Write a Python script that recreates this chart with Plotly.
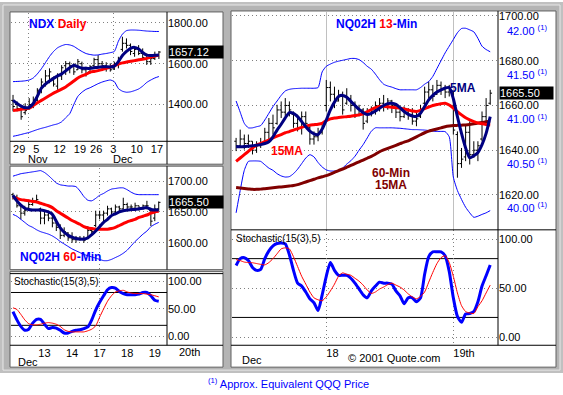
import plotly.graph_objects as go

W, H = 563, 395
FONT = "Arial, Liberation Sans, sans-serif"

# ---------------- DATA ----------------
# Daily NDX (Oct 29 .. Dec 19, 2001), trading-day index
daily_open = [1420, 1400, 1380, 1360, 1380, 1400, 1420, 1470, 1500, 1540, 1530, 1490, 1540, 1590, 1600, 1590, 1570, 1600, 1570, 1560,
              1590, 1620, 1600, 1590, 1580, 1575, 1600, 1670, 1700, 1690, 1650, 1670, 1650, 1640, 1610, 1625, 1640]
daily_high = [1447, 1415, 1398, 1406, 1431, 1439, 1480, 1528, 1569, 1577, 1537, 1553, 1593, 1613, 1610, 1602, 1623, 1610, 1585, 1593,
              1629, 1642, 1613, 1607, 1602, 1610, 1634, 1732, 1724, 1699, 1683, 1691, 1675, 1650, 1642, 1659, 1662]
daily_low = [1366, 1366, 1325, 1350, 1374, 1382, 1415, 1455, 1488, 1504, 1488, 1472, 1520, 1545, 1553, 1545, 1569, 1553, 1537, 1553,
             1577, 1577, 1564, 1561, 1561, 1569, 1577, 1659, 1675, 1642, 1634, 1642, 1618, 1594, 1594, 1618, 1623]
daily_close = [1390, 1380, 1340, 1370, 1400, 1420, 1470, 1510, 1540, 1560, 1500, 1540, 1580, 1600, 1590, 1560, 1610, 1570, 1550, 1585,
               1620, 1600, 1590, 1580, 1570, 1600, 1625, 1700, 1690, 1660, 1670, 1650, 1630, 1610, 1625, 1640, 1657.12]
daily_ma_fast = [1420, 1405, 1392, 1384, 1386, 1405, 1440, 1480, 1500, 1515, 1528, 1540, 1550, 1565, 1580, 1592, 1585, 1578, 1577, 1577,
                 1580, 1583, 1585, 1585, 1584, 1588, 1610, 1640, 1660, 1675, 1680, 1672, 1655, 1642, 1640, 1641, 1643]
daily_ma_slow = [1370, 1373, 1376, 1379, 1382, 1395, 1408, 1420, 1432, 1444, 1456, 1465, 1475, 1486, 1500, 1515, 1530, 1540, 1548, 1558,
                 1562, 1566, 1571, 1577, 1583, 1590, 1598, 1604, 1608, 1612, 1615, 1619, 1622, 1626, 1632, 1637, 1642]
daily_band_up = [1512, 1513, 1514, 1516, 1520, 1530, 1550, 1575, 1605, 1635, 1660, 1678, 1688, 1694, 1692, 1685, 1672, 1660, 1650, 1645,
                 1642, 1643, 1647, 1650, 1654, 1660, 1710, 1745, 1762, 1765, 1765, 1764, 1762, 1760, 1759, 1758, 1758]
daily_band_dn = [1244, 1248, 1253, 1258, 1263, 1270, 1277, 1283, 1288, 1294, 1300, 1305, 1315, 1335, 1355, 1400, 1440, 1460, 1474, 1482,
                 1492, 1502, 1510, 1516, 1520, 1512, 1478, 1465, 1460, 1462, 1468, 1476, 1490, 1508, 1520, 1530, 1537]
daily_tick_idx = [0, 5, 10, 15, 19, 24, 29, 34]
daily_tick_text = ["29", "5", "12", "19", "26", "3", "10", "17"]
daily_month_idx = [3, 24]
daily_month_text = ["Nov", "Dec"]
daily_price_ticks = [1400, 1600, 1800]

# 60-minute NQ02H
h60_open = [1678, 1674, 1660, 1648, 1656, 1662, 1668, 1655, 1640, 1645, 1640, 1632, 1625, 1612, 1616, 1608, 1605, 1606, 1607, 1608,
            1620, 1628, 1645, 1645, 1648, 1655, 1650, 1658, 1655, 1662, 1658, 1656, 1660, 1656, 1660, 1652, 1640, 1655]
h60_high = [1681, 1678, 1662, 1660, 1670, 1673, 1678, 1657, 1652, 1652, 1649, 1635, 1630, 1625, 1617, 1617, 1611, 1611, 1611, 1627,
            1625, 1652, 1652, 1652, 1660, 1657, 1662, 1660, 1673, 1665, 1662, 1665, 1660, 1662, 1668, 1657, 1662, 1667]
h60_low = [1670, 1657, 1638, 1644, 1654, 1660, 1665, 1630, 1630, 1635, 1625, 1619, 1606, 1609, 1603, 1600, 1600, 1603, 1600, 1606,
           1614, 1625, 1638, 1635, 1644, 1646, 1646, 1649, 1654, 1654, 1652, 1652, 1652, 1654, 1654, 1627, 1635, 1652]
h60_close = [1674, 1660, 1648, 1652, 1662, 1668, 1670, 1640, 1645, 1640, 1632, 1625, 1612, 1618, 1608, 1605, 1606, 1607, 1604, 1620,
             1618, 1645, 1645, 1648, 1655, 1650, 1658, 1655, 1662, 1658, 1658, 1660, 1656, 1660, 1660, 1635, 1655, 1665.5]
h60_ma_slow = [1674, 1672, 1670, 1669, 1668, 1667, 1666, 1664, 1662, 1660, 1657, 1652, 1648, 1644, 1640, 1636, 1633, 1630, 1626, 1624,
               1623, 1622, 1622, 1622, 1622, 1623, 1625, 1628, 1631, 1634, 1636, 1638, 1641, 1643, 1645, 1648, 1650, 1651]
h60_ma_fast = [1677, 1668, 1661, 1656, 1654, 1653, 1653, 1653, 1652, 1650, 1646, 1635, 1624, 1617, 1612, 1609, 1607, 1606, 1606, 1608,
               1613, 1619, 1626, 1633, 1638, 1644, 1647, 1650, 1652, 1653, 1654, 1654, 1655, 1656, 1657, 1654, 1653, 1653]
h60_band_up = [1708, 1710, 1712, 1713, 1714, 1715, 1716, 1717, 1714, 1709, 1703, 1697, 1694, 1693, 1692, 1692, 1691, 1684, 1675, 1669,
               1668, 1672, 1677, 1680, 1684, 1687, 1688, 1689, 1689, 1686, 1682, 1679, 1678, 1678, 1678, 1678, 1678, 1678]
h60_band_dn = [1646, 1643, 1638, 1633, 1628, 1625, 1621, 1618, 1616, 1614, 1611, 1607, 1602, 1598, 1594, 1590, 1587, 1584, 1581, 1579,
               1577, 1575, 1573, 1571, 1571, 1573, 1576, 1579, 1583, 1588, 1595, 1602, 1608, 1614, 1619, 1626, 1630, 1633]
h60_stoch_k = [45, 30, 18, 11, 13, 24, 31, 31, 22, 14, 16, 15, 11, 6, 6, 9, 11, 12, 14, 17,
               30, 48, 62, 74, 85, 89, 88, 82, 78, 76, 76, 76, 77, 80, 80, 74, 66, 64]
h60_stoch_d = [52, 49, 40, 30, 23, 21, 21, 22, 24, 25, 24, 22, 18, 12, 9, 8, 8, 8, 8, 10,
               13, 19, 35, 50, 64, 74, 81, 83, 84, 81, 79, 78, 78, 78, 77, 76, 74, 72]
h60_day_idx = [8, 15, 22, 29, 36]
h60_day_text = ["13", "14", "17", "18", "19"]
h60_week_idx = [22]
h60_price_ticks = [1600, 1650, 1700]
stoch_ticks = [0, 50, 100]
stoch_levels = [20, 80]

# 13-minute NQ02H
m13_open = [1644, 1642, 1645, 1643, 1644, 1640, 1642, 1643, 1648, 1652, 1652, 1658, 1657, 1660, 1656, 1652, 1650, 1655, 1650, 1645,
            1646, 1648, 1660, 1668, 1665, 1662, 1664, 1661, 1663, 1660, 1656, 1658, 1653, 1656, 1658, 1660, 1661, 1660, 1662, 1660,
            1657, 1655, 1657, 1656, 1653, 1655, 1661, 1666, 1667, 1665, 1669, 1667, 1666, 1665, 1647, 1634, 1637, 1648, 1638, 1640,
            1645, 1655, 1661]
m13_high = [1645.5, 1649.2, 1647, 1647, 1644, 1644, 1645.5, 1650, 1654.4, 1655.9, 1660.3, 1661.8, 1663.3, 1661.8, 1657.3, 1655.9, 1657.3,
            1657.3, 1651.4, 1648.4, 1650, 1651.4, 1671.4, 1670.7, 1668.4, 1667, 1666.2, 1667.7, 1664.7, 1661.8, 1660.3, 1658.8, 1658.8,
            1659.6, 1661.8, 1663.3, 1664.7, 1663.3, 1662.5, 1661, 1658.8, 1659.6, 1658.8, 1658.8, 1657.3, 1660.3, 1668.4, 1670.7,
            1669.2, 1671.4, 1670.7, 1669.2, 1669.2, 1666.2, 1648.4, 1641, 1651.4, 1652.9, 1644, 1644, 1657.3, 1663.3, 1667]
m13_low = [1639.6, 1641.8, 1640.3, 1641, 1638.1, 1638.8, 1641, 1642.5, 1644, 1647, 1651.4, 1654.4, 1655.1, 1655.1, 1650, 1648.4, 1647,
           1650, 1642.5, 1642.5, 1644, 1647, 1657.3, 1661.8, 1658.8, 1661.8, 1655.9, 1660.3, 1657.3, 1654.4, 1655.1, 1649.2, 1652.1,
           1655.1, 1655.9, 1657.3, 1657.3, 1658.1, 1656.6, 1654.4, 1652.9, 1654.4, 1653.6, 1651.4, 1650.7, 1654.4, 1660.3, 1663.3,
           1661.8, 1664.7, 1664.7, 1663.3, 1664, 1647, 1627.7, 1632.1, 1635.1, 1633.6, 1636.6, 1635.1, 1644, 1652.9, 1660.3]
m13_close = [1642, 1645, 1643, 1644, 1640, 1642, 1643, 1648, 1652, 1650, 1658, 1657, 1660, 1658, 1652, 1650, 1655, 1652, 1645, 1646,
             1648, 1650, 1668, 1665, 1662, 1664, 1658, 1663, 1660, 1656, 1658, 1652, 1656, 1658, 1660, 1661, 1660, 1662, 1660, 1657,
             1655, 1657, 1656, 1653, 1654, 1658, 1666, 1667, 1664, 1669, 1667, 1666, 1667, 1649, 1634, 1636, 1648, 1638, 1640, 1642,
             1655, 1660, 1665.5]
m13_ma5 = [1641.5, 1641.5, 1641.6, 1641.8, 1642, 1642.2, 1642.5, 1643, 1643.8, 1646, 1649, 1651.6, 1654.5, 1656.8, 1656.5, 1655,
           1652.8, 1650.5, 1648.5, 1647.3, 1647, 1649.5, 1653.5, 1658, 1661.5, 1664, 1664.5, 1663.7, 1661.8, 1660, 1658.2, 1656.8,
           1656, 1656.5, 1657.5, 1658.8, 1660, 1660.8, 1661, 1660.5, 1659, 1657.3, 1656, 1655.3, 1655.1, 1656.5, 1659.5, 1662.5,
           1664.5, 1666, 1667, 1667.8, 1668, 1663, 1655, 1647.5, 1641, 1636.6, 1637.5, 1639, 1642.5, 1647.5, 1655]
m13_ma15 = [1635, 1636.5, 1638, 1639.5, 1641, 1642.3, 1643, 1643.8, 1644.5, 1645.5, 1646.3, 1647, 1647.8, 1648.3, 1649, 1649.6,
            1650.2, 1650.7, 1651.2, 1651.4, 1651.6, 1652, 1653.2, 1654, 1654.4, 1654.6, 1654.8, 1655, 1655.2, 1655.5, 1655.8, 1656.3,
            1657.2, 1658.2, 1659, 1659.5, 1659.6, 1659.4, 1659.2, 1659, 1658.8, 1658.4, 1658, 1657.5, 1657.3, 1657.8, 1658.6, 1659.3,
            1660, 1660.4, 1660.8, 1661, 1660.2, 1658.8, 1657.2, 1655.8, 1654.5, 1653.6, 1652.8, 1652.2, 1651.8, 1651.5, 1651.3]
m13_ma60_15 = [1623.3, 1623.1, 1622.9, 1622.7, 1622.5, 1622.5, 1622.6, 1622.8, 1623, 1623.2, 1623.4, 1623.6, 1623.8, 1624, 1624.2,
               1624.6, 1625.2, 1625.8, 1626.4, 1627, 1627.6, 1628.1, 1628.6, 1629.3, 1630.1, 1630.9, 1631.6, 1632.4, 1633.2, 1634,
               1634.8, 1635.6, 1636.4, 1637.2, 1638.2, 1639.3, 1640.1, 1640.8, 1641.5, 1642.2, 1642.9, 1643.6, 1644.2, 1645.1, 1646,
               1646.9, 1647.8, 1648.5, 1649, 1649.5, 1650, 1650.5, 1650.8, 1651, 1651.1, 1651.2, 1651.3, 1651.5, 1651.8, 1652.1,
               1652.4, 1652.7, 1653]
m13_band_up = [1662, 1657, 1652, 1650, 1650, 1650.5, 1651, 1653.5, 1656.5, 1659.5, 1662, 1664.5, 1666.5, 1667.2, 1667.5, 1667.6,
               1667.7, 1667.7, 1667.7, 1667.7, 1668, 1675, 1677.5, 1678.5, 1679.3, 1679.8, 1680.2, 1680.6, 1681, 1681, 1680.5, 1679.2,
               1677.5, 1676.2, 1674, 1671.5, 1669.5, 1668.7, 1668.2, 1667.5, 1667, 1667, 1667, 1667, 1667, 1668, 1669.5, 1670.7, 1673,
               1676.5, 1680, 1683.5, 1686.5, 1689.5, 1692.5, 1694.4, 1694.5, 1693.8, 1692.9, 1690, 1686.5, 1685, 1684]
m13_band_dn = [1612, 1622, 1631, 1635, 1635.2, 1635.2, 1635, 1633.5, 1632, 1631, 1629.5, 1628.5, 1628, 1628.2, 1629.5, 1631.5, 1634,
               1636.5, 1638, 1637, 1634.5, 1632.5, 1631.2, 1630.7, 1630.7, 1630.8, 1632, 1633.8, 1635.3, 1637.3, 1640, 1642.5, 1645.5,
               1648.5, 1650, 1650, 1650, 1650, 1650, 1649.9, 1649.8, 1649.6, 1649.4, 1649.2, 1649.2, 1649.1, 1649, 1648.8, 1648.5,
               1648.4, 1648.4, 1648.3, 1646, 1628, 1622, 1618, 1614.5, 1612, 1610, 1610.5, 1611.3, 1612, 1613]
m13_stoch_k = [73, 80, 81, 78, 71, 68, 69, 80, 88, 93, 95.5, 96, 95, 84, 68, 55, 52, 46, 39, 35, 27, 43, 62, 76, 68, 63, 63, 63, 60,
               55, 49, 43, 40, 47, 52, 56, 55, 55, 54, 47, 42, 34, 40, 40, 36, 40, 64, 82, 87, 87, 87, 83, 67, 40, 21, 15, 23.5, 24,
               26, 36, 52, 62.5, 73.5]
m13_stoch_d = [79, 78, 76.5, 76, 75.8, 75, 74.2, 73.6, 76, 80, 85, 90, 91, 90, 82, 72, 62, 54, 46, 40, 38, 37, 41, 47, 54, 62, 65.5,
               64, 63, 60, 57, 53, 48, 44.5, 46, 49, 51, 53.5, 55, 53, 51, 48, 44, 41, 39, 41.5, 46, 56, 66, 75, 81, 83, 76, 62, 45,
               32, 26, 24.5, 24, 31, 37, 45, 53]
m13_day_idx = [22, 53]
m13_day_text = ["18", "19th"]
m13_price_ticks = [1620, 1640, 1660, 1680, 1700]
qqq_ticks = [40.0, 40.5, 41.0, 41.5, 42.0]
qqq_per_point = 39.55      # NQ points per 1.00 QQQ
qqq_anchor = (40.0, 1614.2)  # QQQ 40.00 ~ NQ 1614.2

# ---------------- helpers ----------------
def X(p):
    return p / W

def Y(p):
    return 1 - p / H

BLUE, RED, NAVY, DKRED = "#0000ff", "#ff0000", "#000080", "#800000"
GRID = dict(showgrid=True, gridcolor="#808080", griddash="1px,3px", gridwidth=1)

fig = go.Figure()

def ohlc(xa, ya, o, h, l, c):
    fig.add_trace(go.Ohlc(x=list(range(len(o))), open=o, high=h, low=l, close=c, xaxis=xa, yaxis=ya,
                          increasing=dict(line=dict(color="black", width=1)),
                          decreasing=dict(line=dict(color="black", width=1)),
                          tickwidth=0.45, showlegend=False, hoverinfo="skip"))

def line(xa, ya, vals, color, width):
    fig.add_trace(go.Scatter(x=list(range(len(vals))), y=vals, xaxis=xa, yaxis=ya, mode="lines",
                             line=dict(color=color, width=width, shape="spline", smoothing=0.6),
                             showlegend=False, hoverinfo="skip"))

# Daily panel
ohlc("x", "y", daily_open, daily_high, daily_low, daily_close)
line("x", "y", daily_band_up, BLUE, 1)
line("x", "y", daily_band_dn, BLUE, 1)
line("x", "y", daily_ma_slow, RED, 3)
line("x", "y", daily_ma_fast, NAVY, 3)

# 60-min panel
ohlc("x2", "y2", h60_open, h60_high, h60_low, h60_close)
line("x2", "y2", h60_band_up, BLUE, 1)
line("x2", "y2", h60_band_dn, BLUE, 1)
line("x2", "y2", h60_ma_slow, RED, 3)
line("x2", "y2", h60_ma_fast, NAVY, 3)

# left stochastic
line("x3", "y3", h60_stoch_k, BLUE, 3)
line("x3", "y3", h60_stoch_d, RED, 1)

# 13-min panel
ohlc("x4", "y4", m13_open, m13_high, m13_low, m13_close)
line("x4", "y4", m13_band_up, BLUE, 1)
line("x4", "y4", m13_band_dn, BLUE, 1)
line("x4", "y4", m13_ma60_15, DKRED, 3)
line("x4", "y4", m13_ma15, RED, 3)
line("x4", "y4", m13_ma5, NAVY, 3)

# right stochastic
line("x5", "y5", m13_stoch_k, BLUE, 3)
line("x5", "y5", m13_stoch_d, RED, 1)

tickfont = dict(family=FONT, size=11, color="black")

def yax(dom, rng, ticks, anchor, grid=True):
    return dict(domain=[Y(dom[1]), Y(dom[0])], range=rng, side="right", anchor=anchor,
                tickmode="array", tickvals=ticks, ticktext=[f"{t:.2f}" for t in ticks],
                tickfont=tickfont, ticks="", showline=False, zeroline=False,
                **(GRID if grid else dict(showgrid=False)))

def xax(dom, rng, anchor, tickvals=None, ticktext=None, grid_vals=None, grid_style=None, labelpos="outside"):
    d = dict(domain=[X(dom[0]), X(dom[1])], range=rng, anchor=anchor, showline=False, zeroline=False,
             ticks="", showgrid=False, rangeslider=dict(visible=False), tickfont=tickfont, tickangle=0)
    if tickvals is not None:
        d.update(tickmode="array", tickvals=tickvals, ticktext=ticktext, showticklabels=True,
                 ticklabelposition=labelpos)
    else:
        d.update(showticklabels=False)
    if grid_vals is not None:
        gs = grid_style or GRID
        d["minor"] = dict(tickmode="array", tickvals=grid_vals, ticks="", **gs)
    return d

qqq_lo = qqq_anchor[0] + (1604.4 - qqq_anchor[1]) / qqq_per_point
qqq_hi = qqq_anchor[0] + (1701.8 - qqq_anchor[1]) / qqq_per_point

fig.update_layout(
    width=W, height=H, margin=dict(l=0, r=0, t=0, b=0),
    paper_bgcolor="white", plot_bgcolor="rgba(0,0,0,0)", showlegend=False,
    font=dict(family=FONT, size=11, color="black"),
    xaxis=xax((11, 167), [-0.5, 38.0], "y", daily_tick_idx, daily_tick_text,
              [m + 0.7 for m in daily_month_idx], labelpos="outside right"),
    yaxis=yax((11, 140), [1219.5, 1848.8], daily_price_ticks, "x"),
    xaxis2=xax((11, 167), [-0.5, 39.1], "y2", None, None, h60_week_idx),
    yaxis2=yax((167, 268), [1558, 1721], h60_price_ticks, "x2"),
    xaxis3=xax((11, 167), [-0.5, 39.1], "y3", h60_day_idx, h60_day_text, h60_week_idx),
    yaxis3=yax((273, 345), [-16.4, 114.5], stoch_ticks, "x3"),
    xaxis4=xax((232, 498), [-1, 63.9], "y4", None, None, m13_day_idx,
               dict(showgrid=True, gridcolor="#c0c0c0", gridwidth=1)),
    yaxis4=yax((10, 229), [1604.4, 1701.8], m13_price_ticks, "x4"),
    xaxis5=xax((232, 498), [-1, 63.9], "y5", m13_day_idx, m13_day_text, m13_day_idx, labelpos="outside right"),
    yaxis5=yax((229, 345), [-8.4, 109.4], stoch_ticks, "x5"),
    yaxis6=dict(overlaying="y4", side="right", anchor="free", position=X(506), range=[qqq_lo, qqq_hi],
                tickmode="array", tickvals=qqq_ticks,
                ticktext=[f"{t:.2f} <sup>(1)</sup>" for t in qqq_ticks],
                tickfont=dict(family=FONT, size=11, color=BLUE), ticks="", showgrid=False,
                showline=False, zeroline=False),
)
# invisible trace so the QQQ scale renders
fig.add_trace(go.Scatter(x=[0], y=[41], xaxis="x4", yaxis="y6", mode="markers",
                         marker=dict(opacity=0), showlegend=False, hoverinfo="skip"))

shapes = []
# gray frame
shapes.append(dict(type="rect", xref="paper", yref="paper", x0=0, x1=1, y0=Y(373), y1=1,
                   fillcolor="#c0c0c0", line=dict(width=0), layer="below"))
shapes.append(dict(type="rect", xref="paper", yref="paper", x0=X(3), x1=X(560), y0=Y(370), y1=Y(3),
                   fillcolor="#b4b4b4", line=dict(color="#e8e8e8", width=1), layer="below"))
for (x0, y0, x1, y1) in [(10, 10, 223, 163), (10, 165, 223, 269), (10, 271, 223, 367), (231, 9, 556, 367)]:
    shapes.append(dict(type="rect", xref="paper", yref="paper", x0=X(x0), x1=X(x1), y0=Y(y1), y1=Y(y0),
                       fillcolor="white", line=dict(color="#606060", width=1), layer="below"))
# black frame lines
for (x0, y0, x1, y1) in [(167, 10, 167, 163), (10, 140, 223, 140), (167, 165, 167, 269),
                         (10, 273, 223, 273), (167, 273, 167, 345), (10, 345, 223, 345),
                         (498, 9, 498, 345), (231, 229, 556, 229), (231, 345, 556, 345)]:
    shapes.append(dict(type="line", xref="paper", yref="paper", x0=X(x0), x1=X(x1), y0=Y(y0), y1=Y(y1),
                       line=dict(color="black", width=1), layer="above"))
# stochastic 20/80 lines
for lv in stoch_levels:
    for xa, ya in (("x3", "y3"), ("x5", "y5")):
        shapes.append(dict(type="line", xref=f"{xa} domain", yref=ya, x0=0, x1=1, y0=lv, y1=lv,
                           line=dict(color="black", width=1), layer="below"))
fig.update_layout(shapes=shapes)

ann = []

def txt(x, y, s, size=11, color="black", xanchor="left", bold=False):
    ann.append(dict(x=X(x), y=Y(y), xref="paper", yref="paper", text=(f"<b>{s}</b>" if bold else s),
                    showarrow=False, xanchor=xanchor, yanchor="middle",
                    font=dict(family=FONT, size=size, color=color)))

txt(58, 22, f"<span style='color:{BLUE}'>NDX </span><span style='color:{RED}'>Daily</span>", 12, xanchor="center", bold=True)
txt(18, 256, f"<span style='color:{BLUE}'>NQ02H </span><span style='color:{RED}'>60</span><span style='color:{BLUE}'>-Min</span>", 12, bold=True)
txt(376, 22, f"<span style='color:{BLUE}'>NQ02H </span><span style='color:{RED}'>13</span><span style='color:{BLUE}'>-Min</span>", 12, xanchor="center", bold=True)
txt(287, 150, "15MA", 12, RED, "center", True)
txt(391, 172, "60-Min", 12, DKRED, "center", True)
txt(391, 184, "15MA", 12, DKRED, "center", True)
txt(463, 86, "5MA", 12, NAVY, "center", True)
txt(12, 281, "Stochastic(15(3),5)", 10)
txt(234, 238, "Stochastic(15(3),5)", 10)
for mi, mt in zip(daily_month_idx, daily_month_text):
    ann.append(dict(x=mi + 0.3, y=Y(158), xref="x", yref="paper", text=mt, showarrow=False,
                    xanchor="left", yanchor="middle", font=tickfont))
txt(16, 362, "Dec")
txt(190, 352, "20th", xanchor="center")
txt(240, 360, "Dec")
txt(394, 358, "© 2001 Quote.com", xanchor="center")
txt(288, 383, "<sup>(1)</sup> Approx. Equivalent QQQ Price", 11, BLUE, "center")

def pricebox(xref_px, yref, val, w):
    ann.append(dict(x=X(xref_px), y=val, xref="paper", yref=yref, text=f"{val:.2f}", showarrow=False,
                    xanchor="left", yanchor="middle", align="left", width=w, height=12,
                    bgcolor="black", borderpad=0, font=dict(family=FONT, size=11, color="white")))

pricebox(167.5, "y", daily_close[-1], 54)
pricebox(167.5, "y2", h60_close[-1], 54)
pricebox(499, "y4", m13_close[-1], 53)
fig.update_layout(annotations=ann)

fig.write_html("out.html", config={"displayModeBar": False},
               post_script="document.body.style.margin='0';document.body.style.overflow='hidden';")
